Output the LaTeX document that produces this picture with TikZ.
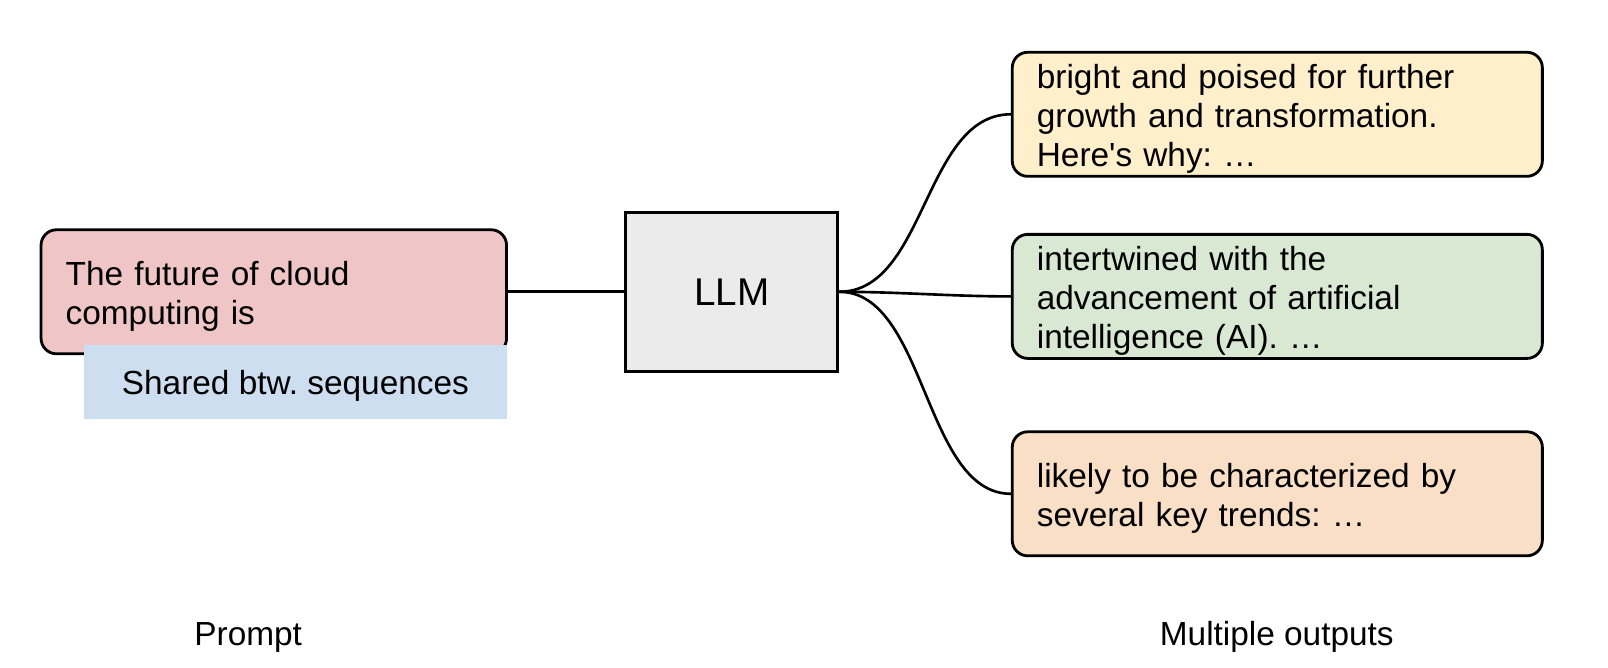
\documentclass[tikz,border=0pt]{standalone}
\usepackage{fontspec}
\setmainfont{Liberation Sans}
\usepackage{tikz}
\usetikzlibrary{positioning}
\usepackage{xcolor}
\definecolor{mypink}{HTML}{EFC6C5}
\definecolor{myblue}{HTML}{CCDEF0}
\definecolor{mygray}{HTML}{EBEBEB}
\definecolor{myyellow}{HTML}{FFF0CB}
\definecolor{mygreen}{HTML}{D8E8D3}
\definecolor{myorange}{HTML}{F9DFC5}
\frenchspacing
\tikzset{
  every node/.style={font=\fontsize{19}{22.2}\selectfont},
  textbox/.style={draw, line width=1.6pt, rounded corners=0.31cm, align=left,
    inner xsep=0.492cm, inner ysep=0pt, minimum height=2.482cm,
    execute at begin node={\rule{0pt}{18.5pt}}},
  outbox/.style={textbox, text width=9.62cm},
  link/.style={line width=1.5pt}
}

\begin{document}
\begin{tikzpicture}[x=0.02cm, y=-0.02cm]
				\useasboundingbox (0,0) rectangle (1608,668);
				% input side
				\node [textbox, fill=mypink, text width=8.328cm] (prompt) at (273.8,291.8) {The future of cloud\\computing is};
				\node [fill=myblue, minimum width=8.45cm, minimum height=1.496cm, inner sep=0pt, text height=18pt] (shared) at (295.4,382) {Shared btw. sequences};
				\node [draw, line width=1.6pt, fill=mygray, minimum width=4.246cm, minimum height=3.178cm, font=\fontsize{22}{26}\selectfont] (llm) at (731.7,291.8) {LLM};
				\draw [link] (prompt.east) -- (llm.west);
				% outputs
				\node [outbox, fill=myyellow] (outa) at (1277.3,114.3) {bright and poised for further\\growth and transformation.\\Here\textquotesingle s why: …};
				\node [outbox, fill=mygreen] (outb) at (1277.3,296.4) {intertwined with the\\advancement of artificial\\intelligence (AI). …};
				\node [outbox, fill=myorange] (outc) at (1277.3,493.8) {likely to be characterized by\\several key trends: …};
				\draw [link] (llm.east) .. controls +(87,0) and +(-87,0) .. (outa.west);
				\draw [link] (llm.east) .. controls +(60,0) and +(-60,0) .. (outb.west);
				\draw [link] (llm.east) .. controls +(87,0) and +(-87,0) .. (outc.west);
				% captions
				\node (promptlabel) at (248.2,637) {Prompt};
				\node (outlabel) at (1276.8,637) {Multiple outputs};
			\end{tikzpicture}
\end{document}
